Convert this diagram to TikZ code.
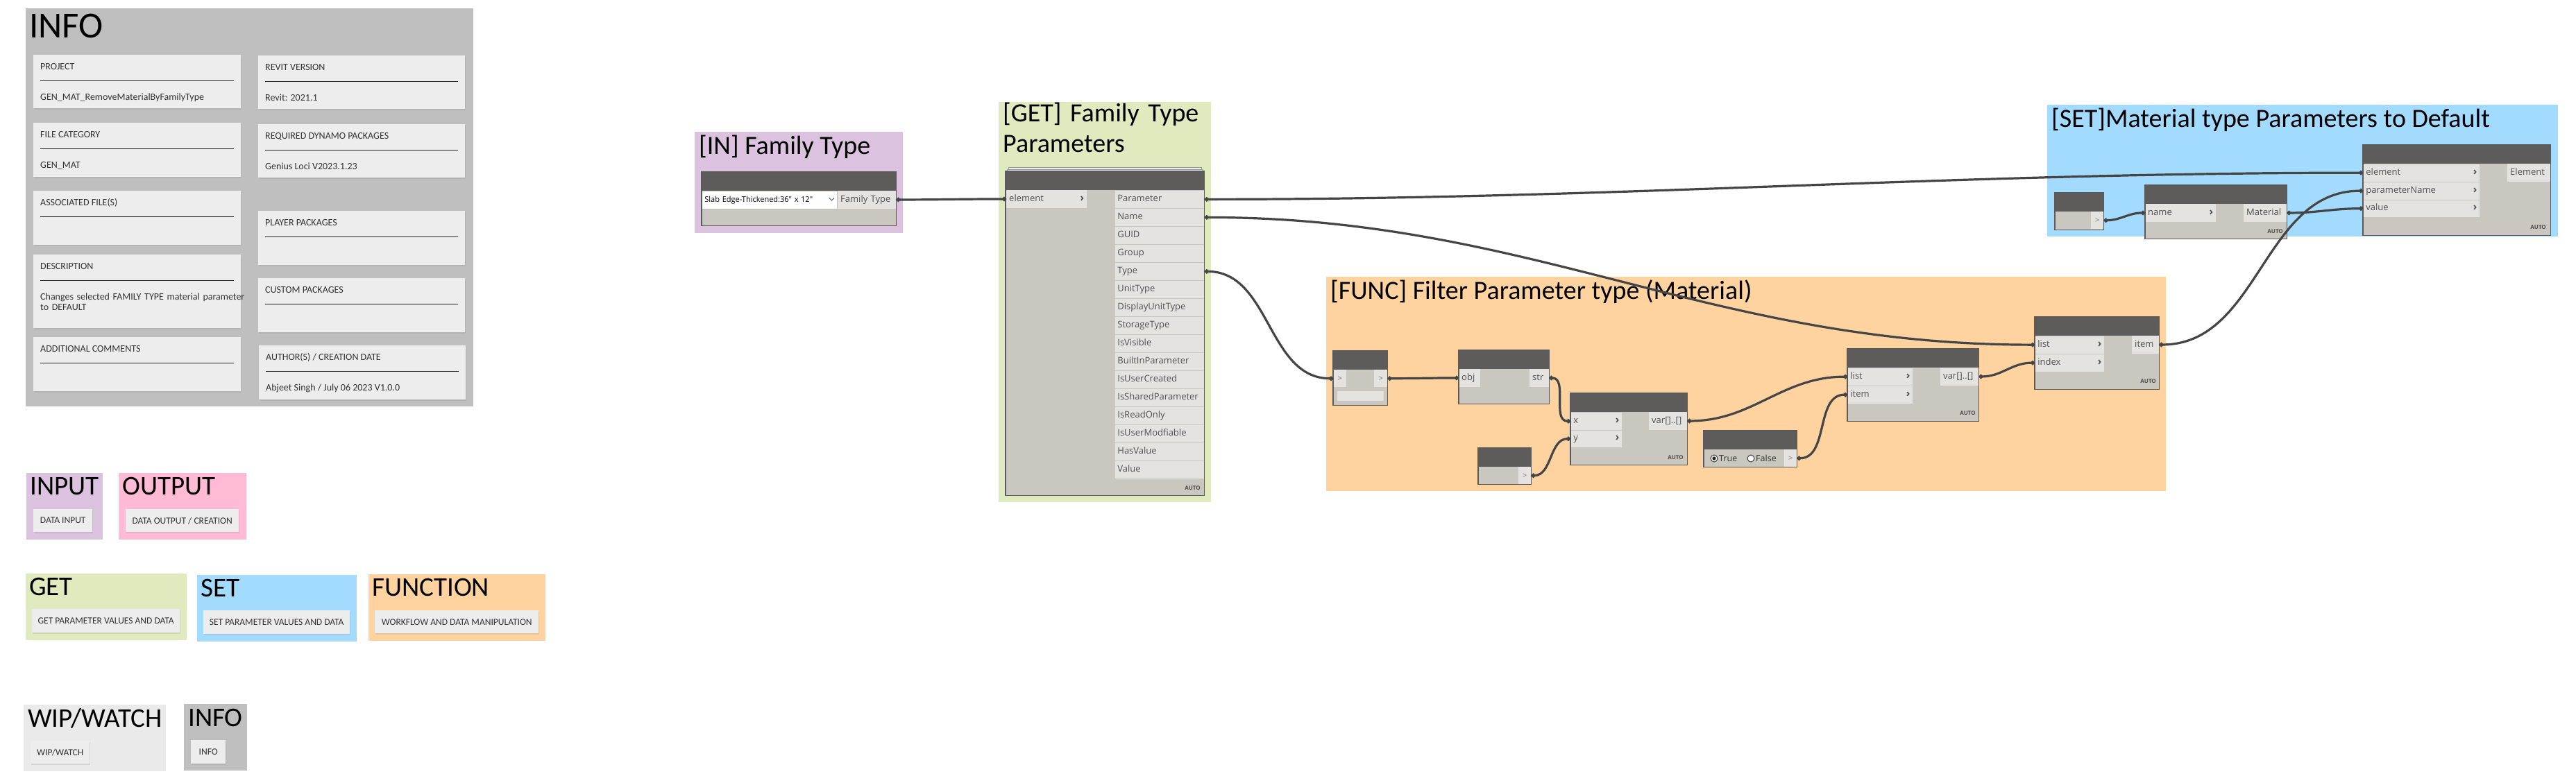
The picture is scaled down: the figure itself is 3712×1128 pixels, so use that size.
\documentclass[tikz,border=0pt]{standalone}
\usepackage{fontspec}
\setmainfont{Open Sans}
\newfontfamily\titlefont{Carlito}
\newfontfamily\portfont{Open Sans}
\usetikzlibrary{arrows.meta,shadows}
\definecolor{infogray}{HTML}{BFBFBF}
\definecolor{cardgray}{HTML}{EDEDED}
\definecolor{ingrp}{HTML}{DBC3E0}
\definecolor{outgrp}{HTML}{FFBAD6}
\definecolor{getgrp}{HTML}{E0EABE}
\definecolor{setgrp}{HTML}{A3DBFF}
\definecolor{funcgrp}{HTML}{FFD3A0}
\definecolor{wipgrp}{HTML}{EAEAEA}
\definecolor{headgray}{HTML}{5E5C5A}
\definecolor{bodygray}{HTML}{CAC6C0}
\definecolor{portgray}{HTML}{E4E3DF}
\definecolor{edgegray}{HTML}{5A5A5A}
\definecolor{sepgray}{HTML}{C9C7C3}
\definecolor{txtgray}{HTML}{505050}
\definecolor{wiregray}{HTML}{454545}
\newcommand{\chev}{{\bfseries\fontsize{15}{15}\selectfont\char"203A}}
\begin{document}
\begin{tikzpicture}[x=1pt, y=-1pt,
  grp/.style={anchor=north west, inner sep=0pt, outer sep=0pt},
  grptitle/.style={anchor=base west, inner sep=0pt, font=\titlefont\fontsize{38}{44}\selectfont},
  card/.style={anchor=north west, fill=cardgray, inner sep=0pt, drop shadow={opacity=0.18, shadow xshift=1pt, shadow yshift=-1.5pt}},
  cardtxt/.style={anchor=base west, inner sep=0pt, text=black!80, font=\titlefont\fontsize{14}{15}\selectfont},
  cardline/.style={line width=1pt, black!85},
  legtitle/.style={anchor=base west, inner sep=0pt, font=\titlefont\fontsize{39}{40}\selectfont},
  legcard/.style={card, text=black!80, font=\titlefont\fontsize{13.5}{15}\selectfont},
  nbody/.style={anchor=north west, fill=bodygray, inner sep=0pt},
  nhead/.style={anchor=north west, fill=headgray, inner sep=0pt, minimum height=27pt},
  port/.style={anchor=north west, fill=portgray, inner xsep=4pt, inner ysep=0pt, minimum height=25.5pt, text height=9.5pt, text depth=3pt, text=txtgray, align=left, font=\portfont\fontsize{13}{15}\selectfont},
  tport/.style={anchor=north west, fill=portgray, inner sep=0pt, minimum width=19pt, minimum height=25pt, text=black!55, font=\portfont\fontsize{11}{12}\selectfont},
  rowsep/.style={draw=sepgray, line width=0.8pt},
  autotag/.style={anchor=base east, inner sep=0pt, text=black!70, font=\portfont\bfseries\fontsize{8}{8}\selectfont},
  wire/.style={draw=wiregray, line width=3.2pt, arrows={Circle[length=6pt]-Circle[length=6pt]}},
]
\useasboundingbox (0,0) rectangle (3712,1128);
\fill[white] (0,0) rectangle (3712,1128);

\node[grp, fill=infogray, minimum width=645pt, minimum height=574pt] (grpInfo) at (37,12) {};
\node[anchor=base west, inner sep=0pt, font=\titlefont\fontsize{53}{55}\selectfont] (ttlInfo) at (42,54) {INFO};

\node[card, minimum width=299pt, minimum height=77pt] (cardProject) at (48,79) {};
\node[cardtxt] (cardProjectHd) at (58,100) {PROJECT};
\draw[cardline] (58,116) -- (337,116);
\node[cardtxt] (cardProjectVal) at (58,144) {GEN\_MAT\_RemoveMaterialByFamilyType};

\node[card, minimum width=299pt, minimum height=78pt] (cardCategory) at (48,177) {};
\node[cardtxt] (cardCategoryHd) at (58,198) {FILE CATEGORY};
\draw[cardline] (58,214) -- (337,214);
\node[cardtxt] (cardCategoryVal) at (58,242) {GEN\_MAT};

\node[card, minimum width=299pt, minimum height=78pt] (cardFiles) at (48,275) {};
\node[cardtxt] (cardFilesHd) at (58,296) {ASSOCIATED FILE(S)};
\draw[cardline] (58,312) -- (337,312);

\node[card, minimum width=299pt, minimum height=106pt] (cardDesc) at (48,367) {};
\node[cardtxt] (cardDescHd) at (58,388) {DESCRIPTION};
\draw[cardline] (58,404) -- (337,404);
\node[cardtxt, text width=310pt, align=left] (cardDescVal) at (58,432) {Changes selected FAMILY TYPE material parameter\\to DEFAULT};

\node[card, minimum width=299pt, minimum height=78pt] (cardComments) at (48,486) {};
\node[cardtxt] (cardCommentsHd) at (58,507) {ADDITIONAL COMMENTS};
\draw[cardline] (58,523) -- (337,523);

\node[card, minimum width=298pt, minimum height=77pt] (cardRevit) at (372,80) {};
\node[cardtxt] (cardRevitHd) at (382,101) {REVIT VERSION};
\draw[cardline] (382,117) -- (660,117);
\node[cardtxt] (cardRevitVal) at (382,145) {Revit: 2021.1};

\node[card, minimum width=298pt, minimum height=77pt] (cardPkgs) at (372,179) {};
\node[cardtxt] (cardPkgsHd) at (382,200) {REQUIRED DYNAMO PACKAGES};
\draw[cardline] (382,216) -- (660,216);
\node[cardtxt] (cardPkgsVal) at (382,244) {Genius Loci V2023.1.23};

\node[card, minimum width=298pt, minimum height=78pt] (cardPlayer) at (372,304) {};
\node[cardtxt] (cardPlayerHd) at (382,325) {PLAYER PACKAGES};
\draw[cardline] (382,341) -- (660,341);

\node[card, minimum width=298pt, minimum height=78pt] (cardCustom) at (372,401) {};
\node[cardtxt] (cardCustomHd) at (382,422) {CUSTOM PACKAGES};
\draw[cardline] (382,438) -- (660,438);

\node[card, minimum width=298pt, minimum height=78pt] (cardAuthor) at (373,498) {};
\node[cardtxt] (cardAuthorHd) at (383,519) {AUTHOR(S) / CREATION DATE};
\draw[cardline] (383,535) -- (661,535);
\node[cardtxt] (cardAuthorVal) at (383,563) {Abjeet Singh / July 06 2023 V1.0.0};

\node[grp, fill=ingrp, minimum width=110pt, minimum height=96pt] (legIn) at (38,682) {};
\node[legtitle] (legInTtl) at (43,713) {INPUT};
\node[legcard, minimum width=85pt, minimum height=33pt] (legInCard) at (48,734) {DATA INPUT};
\node[grp, fill=outgrp, minimum width=184pt, minimum height=96pt] (legOut) at (171,682) {};
\node[legtitle] (legOutTtl) at (176,713) {OUTPUT};
\node[legcard, minimum width=163pt, minimum height=33pt] (legOutCard) at (181,734) {DATA OUTPUT / CREATION};
\node[grp, fill=getgrp, minimum width=232pt, minimum height=96pt] (legGet) at (37,827) {};
\node[legtitle] (legGetTtl) at (42,858) {GET};
\node[legcard, minimum width=213pt, minimum height=34pt] (legGetCard) at (46,878) {GET PARAMETER VALUES AND DATA};
\node[grp, fill=setgrp, minimum width=230pt, minimum height=96pt] (legSet) at (284,829) {};
\node[legtitle] (legSetTtl) at (289,860) {SET};
\node[legcard, minimum width=211pt, minimum height=34pt] (legSetCard) at (293,880) {SET PARAMETER VALUES AND DATA};
\node[grp, fill=funcgrp, minimum width=255pt, minimum height=96pt] (legFunc) at (531,828) {};
\node[legtitle] (legFuncTtl) at (536,859) {FUNCTION};
\node[legcard, minimum width=236pt, minimum height=33pt] (legFuncCard) at (540,880) {WORKFLOW AND DATA MANIPULATION};
\node[grp, fill=wipgrp, minimum width=205pt, minimum height=96pt] (legWip) at (34,1016) {};
\node[legtitle] (legWipTtl) at (40,1048) {WIP/WATCH};
\node[legcard, minimum width=85pt, minimum height=33pt] (legWipCard) at (44,1068) {WIP/WATCH};
\node[grp, fill=infogray, minimum width=91pt, minimum height=96pt] (legInfo) at (265,1015) {};
\node[legtitle] (legInfoTtl) at (271,1047) {INFO};
\node[legcard, minimum width=50pt, minimum height=34pt] (legInfoCard) at (275,1067) {INFO};

\node[grp, fill=ingrp, minimum width=300pt, minimum height=146pt] (grpIn) at (1001,190) {};
\node[grptitle] (ttlIn) at (1007,222) {[IN] Family Type};
\node[grp, fill=getgrp, minimum width=306pt, minimum height=577pt] (grpGet) at (1439,147) {};
\node[grptitle, text width=300pt] (ttlGet) at (1445,175) {[GET] Family Type\\Parameters};
\node[grp, fill=funcgrp, minimum width=1210pt, minimum height=309pt] (grpFunc) at (1911,399) {};
\node[grptitle] (ttlFunc) at (1917,431) {[FUNC] Filter Parameter type (Material)};
\node[grp, fill=setgrp, minimum width=736pt, minimum height=190pt] (grpSet) at (2950,151) {};
\node[grptitle] (ttlSet) at (2956,183) {[SET]Material type Parameters to Default};

\node[nbody, minimum width=280pt, minimum height=77pt] (famType) at (1011,248) {};
\node[nhead, minimum width=280pt] (famTypeHd) at (1011,248) {};
\node[port, fill=white, draw=black!25, line width=0.8pt, text width=187pt, font=\portfont\fontsize{11}{13}\selectfont, text=black] (famTypeDrop) at (1011,275) {Slab Edge-Thickened:36" x 12"};
\draw[txtgray, line width=0.8pt] (1195,285.5) -- (1198.5,289) -- (1202,285.5);
\node[port, text width=76pt] (famTypeOut) at (1207,275) {Family Type};

\draw[fill=cardgray, draw=black!40, line width=0.8pt] (1453,241) rectangle (1731,247);
\draw[fill=cardgray, draw=black!40, line width=0.8pt] (1451,244) rectangle (1733,247);
\node[nbody, minimum width=286pt, minimum height=467pt] (getNode) at (1449,247) {};
\node[nhead, minimum width=286pt] (getNodeHd) at (1449,247) {};
\node[port, text width=108pt] (getIn) at (1450,274) {element\hfill\chev};
\foreach \lbl [count=\i from 0] in {Parameter, Name, GUID, Group, Type, UnitType, DisplayUnitType, StorageType, IsVisible, BuiltInParameter, IsUserCreated, IsSharedParameter, IsReadOnly, IsUserModfiable, HasValue, Value}
  \node[port, rowsep, text width=121pt, minimum height=26pt] (getOut\i) at (1606,274+26*\i) {\lbl};
\node[autotag] (getNodeAuto) at (1730,706) {AUTO};

\node[nbody, minimum width=78pt, minimum height=78pt] (watchType) at (1921,506) {};
\node[nhead, minimum width=78pt] (watchTypeHd) at (1921,506) {};
\node[tport] (watchTypeIn) at (1921,533) {>};
\node[tport] (watchTypeOut) at (1980,533) {>};
\node[anchor=north west, fill=portgray, draw=black!12, minimum width=66pt, minimum height=13pt, inner sep=0pt] (watchTypeBox) at (1927,564) {};

\node[nbody, minimum width=130pt, minimum height=77pt] (strFrom) at (2102,505) {};
\node[nhead, minimum width=130pt] (strFromHd) at (2102,505) {};
\node[port, text width=23pt] (strFromObj) at (2102,532) {obj};
\node[port, text width=20pt] (strFromStr) at (2204,532) {str};

\node[nbody, minimum width=168pt, minimum height=103pt] (contains) at (2263,567) {};
\node[nhead, minimum width=168pt] (containsHd) at (2263,567) {};
\node[port, rowsep, text width=66pt] (containsX) at (2263,594) {x\hfill\chev};
\node[port, rowsep, text width=66pt] (containsY) at (2263,619.5) {y\hfill\chev};
\node[port, text width=47pt] (containsVar) at (2376,594) {var[]..[]};
\node[autotag] (containsAuto) at (2426,662) {AUTO};

\node[nbody, minimum width=76pt, minimum height=52pt] (strSearch) at (2130,646) {};
\node[nhead, minimum width=76pt] (strSearchHd) at (2130,646) {};
\node[tport, minimum width=18pt] (strSearchOut) at (2188,673) {>};

\node[nbody, minimum width=134pt, minimum height=52pt] (boolTrue) at (2455,621) {};
\node[nhead, minimum width=134pt] (boolTrueHd) at (2455,621) {};
\draw[fill=white, draw=black!75, line width=1pt] (2470,661) circle (5);
\fill[black!85] (2470,661) circle (2.6);
\node[anchor=west, inner sep=0pt, text=black!80, font=\portfont\fontsize{12.5}{14}\selectfont] (boolTrueTxt) at (2477,661) {True};
\draw[fill=white, draw=black!75, line width=1pt] (2523,661) circle (5);
\node[anchor=west, inner sep=0pt, text=black!80, font=\portfont\fontsize{12.5}{14}\selectfont] (boolFalseTxt) at (2530,661) {False};
\node[tport, minimum width=18pt] (boolTrueOut) at (2571,648) {>};

\node[nbody, minimum width=189pt, minimum height=104pt] (mask) at (2662,503) {};
\node[nhead, minimum width=189pt] (maskHd) at (2662,503) {};
\node[port, rowsep, text width=86pt] (maskList) at (2662,530) {list\hfill\chev};
\node[port, rowsep, text width=86pt] (maskItem) at (2662,556) {item\hfill\chev};
\node[port, text width=47pt] (maskVar) at (2796,530) {var[]..[]};
\node[autotag] (maskAuto) at (2847,598) {AUTO};

\node[nbody, minimum width=179pt, minimum height=104pt] (getItem) at (2932,457) {};
\node[nhead, minimum width=179pt] (getItemHd) at (2932,457) {};
\node[port, rowsep, text width=92pt] (getItemList) at (2932,484) {list\hfill\chev};
\node[port, rowsep, text width=92pt] (getItemIndex) at (2932,510) {index\hfill\chev};
\node[port, text width=31pt] (getItemOut) at (3072,484) {item};
\node[autotag] (getItemAuto) at (3107,552) {AUTO};

\node[nbody, minimum width=70pt, minimum height=53pt] (strMaterial) at (2961,278) {};
\node[nhead, minimum width=70pt] (strMaterialHd) at (2961,278) {};
\node[tport, minimum width=18pt] (strMaterialOut) at (3013,305) {>};

\node[nbody, minimum width=204pt, minimum height=77pt] (matByName) at (3091,267) {};
\node[nhead, minimum width=204pt] (matByNameHd) at (3091,267) {};
\node[port, text width=94pt] (matByNameIn) at (3091,294) {name\hfill\chev};
\node[port, text width=54pt] (matByNameOut) at (3233,294) {Material};
\node[autotag] (matByNameAuto) at (3290,336) {AUTO};

\node[nbody, minimum width=270pt, minimum height=130pt] (setParam) at (3405,209) {};
\node[nhead, minimum width=270pt] (setParamHd) at (3405,209) {};
\node[port, rowsep, text width=160pt] (setElem) at (3405,236) {element\hfill\chev};
\node[port, rowsep, text width=160pt] (setParamName) at (3405,262) {parameterName\hfill\chev};
\node[port, rowsep, text width=160pt] (setValue) at (3405,287.5) {value\hfill\chev};
\node[port, text width=54pt] (setOut) at (3613,236) {Element};
\node[autotag] (setParamAuto) at (3669,330) {AUTO};

\foreach \n in {famType, getNode, watchType, strFrom, contains, strSearch, boolTrue, mask, getItem, strMaterial, matByName, setParam}
  \draw[edgegray, line width=1.2pt] (\n.north west) rectangle (\n.south east);

\foreach \src/\dst/\d in {famTypeOut/getIn/60, getOut0/setElem/600, getOut1/getItemList/470, getOut4/watchTypeIn/95, watchTypeOut/strFromObj/40, strFromStr/containsX/27, strSearchOut/containsY/30, containsVar/maskList/94, boolTrueOut/maskItem/46, maskVar/getItemIndex/33, getItemOut/setParamName/144, strMaterialOut/matByNameIn/24, matByNameOut/setValue/43}
  \draw[wire] (\src.east) .. controls +(\d,0) and +(-\d,0) .. (\dst.west);
\end{tikzpicture}
\end{document}
